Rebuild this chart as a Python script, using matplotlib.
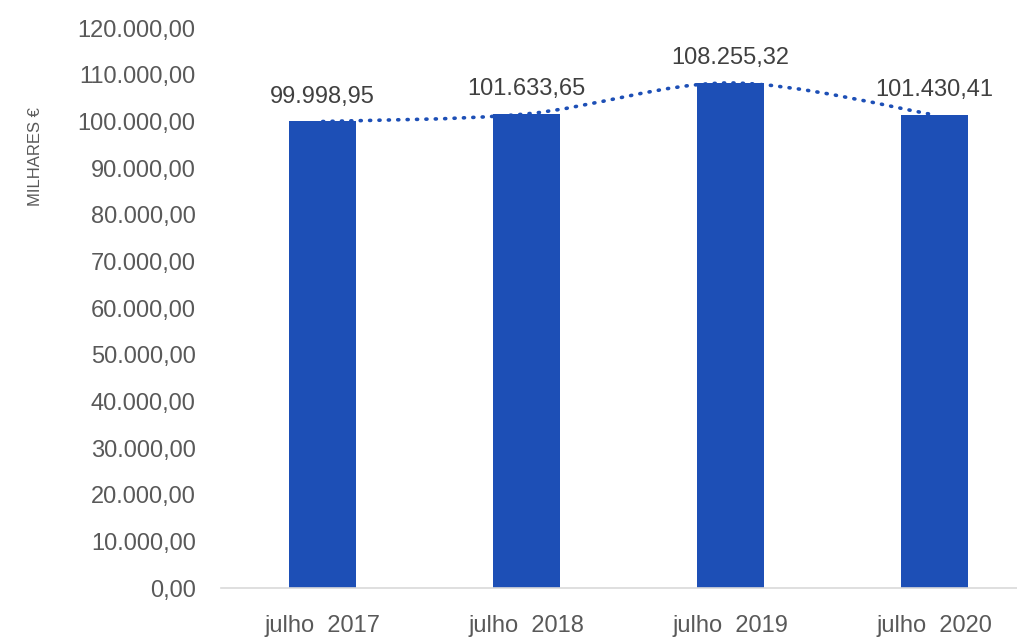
import matplotlib.pyplot as plt
from matplotlib.path import Path
from matplotlib.patches import PathPatch
from matplotlib.ticker import FuncFormatter

categories = ['julho  2017', 'julho  2018', 'julho  2019', 'julho  2020']
values = [99998.95, 101633.65, 108255.32, 101430.41]
yticks = list(range(0, 120001, 10000))

plt.rcParams['font.family'] = ['Liberation Sans', 'DejaVu Sans']

def pt_format(v, pos=None):
    # 101633.65 -> 101.633,65
    s = '{:,.2f}'.format(v)
    return s.replace(',', 'X').replace('.', ',').replace('X', '.')

blue = '#1d4fb6'
grey = '#595959'

fig = plt.figure(figsize=(10.17, 6.4), dpi=100)
ax = fig.add_axes([0.217, 0.081, 0.802, 0.875])

x = list(range(len(categories)))
ax.bar(x, values, width=0.33, color=blue, zorder=2)

# smoothed dotted line through the bar tops (bezier segments, like Excel)
verts = [(x[0], values[0])]
codes = [Path.MOVETO]
for i in range(len(x) - 1):
    p0 = (x[i - 1], values[i - 1]) if i > 0 else (x[i], values[i])
    p1 = (x[i], values[i])
    p2 = (x[i + 1], values[i + 1])
    p3 = (x[i + 2], values[i + 2]) if i + 2 < len(x) else p2
    c1 = (p1[0] + (p2[0] - p0[0]) / 6, p1[1] + (p2[1] - p0[1]) / 6)
    c2 = (p2[0] - (p3[0] - p1[0]) / 6, p2[1] - (p3[1] - p1[1]) / 6)
    verts += [c1, c2, p2]
    codes += [Path.CURVE4] * 3
ax.add_patch(PathPatch(Path(verts, codes), fill=False, edgecolor=blue,
                       lw=2.6, linestyle=(0, (0.3, 2.3)), capstyle='round', zorder=3))

for xi, v in zip(x, values):
    ax.annotate(pt_format(v), (xi, v), xytext=(0, 10), textcoords='offset points',
                ha='center', va='bottom', fontsize=17, color='#404040', zorder=4)

ax.set_xlim(-0.5, 3.5)
ax.set_ylim(0, 120000)
ax.set_yticks(yticks)
ax.yaxis.set_major_formatter(FuncFormatter(pt_format))
ax.set_xticks(x)
ax.set_xticklabels(categories)
ax.tick_params(axis='both', length=0, labelsize=17, labelcolor=grey)
ax.tick_params(axis='y', pad=18)
ax.tick_params(axis='x', pad=19)

for side in ['top', 'right', 'left']:
    ax.spines[side].set_visible(False)
ax.spines['bottom'].set_color('#d9d9d9')
ax.spines['bottom'].set_linewidth(1.2)

fig.text(35 / 1017, 1 - 157 / 640, 'MILHARES €', rotation=90, ha='center', va='center',
         fontsize=12, color=grey)

fig.savefig('out.png', dpi=100)
